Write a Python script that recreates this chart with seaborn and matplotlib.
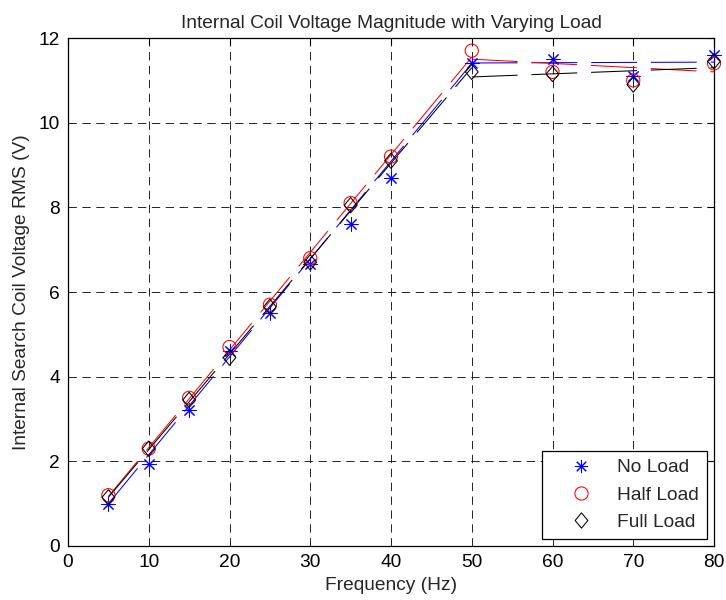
import matplotlib
matplotlib.use("Agg")
import matplotlib.pyplot as plt
import seaborn as sns
import pandas as pd
from matplotlib.lines import Line2D
from matplotlib.path import Path

# Measured RMS voltage at each test frequency
freq = [5, 10, 15, 20, 25, 30, 35, 40, 50, 60, 70, 80]
no_load = [1.0, 1.93, 3.22, 4.6, 5.5, 6.65, 7.6, 8.7, 11.4, 11.5, 11.1, 11.6]
half_load = [1.2, 2.3, 3.5, 4.7, 5.7, 6.8, 8.1, 9.2, 11.7, 11.2, 11.0, 11.4]
full_load = [1.15, 2.3, 3.45, 4.45, 5.65, 6.7, 8.05, 9.1, 11.2, 11.15, 10.9, 11.45]

# Piecewise linear fits: rising region 5-50 Hz, flat region 50-80 Hz
fit_rise_x = [5, 50]
fit_flat_x = [50, 80]
no_load_rise = [1.0, 11.4]
no_load_flat = [11.41, 11.43]
half_load_rise = [1.17, 11.55]
half_load_flat = [11.5, 11.2]
full_load_rise = [1.15, 11.3]
full_load_flat = [11.08, 11.3]

labels = ["No Load", "Half Load", "Full Load"]
colors = ["#0000ff", "#ff0000", "#000000"]

sns.set_style("white")
plt.rcParams["font.family"] = ["Liberation Sans", "DejaVu Sans"]
plt.rcParams["lines.scale_dashes"] = False

FS = 13.8

# slightly tall diamond and 8-spoke asterisk
diamond = Path([(0, 0.6), (0.5, 0), (0, -0.6), (-0.5, 0), (0, 0.6)],
               [Path.MOVETO, Path.LINETO, Path.LINETO, Path.LINETO, Path.CLOSEPOLY])
asterisk = (8, 2, 0)

fig = plt.figure(figsize=(7.26, 6.0), dpi=100)
ax = fig.add_axes([68 / 726, 1 - 546 / 600, 646 / 726, 508 / 600])

series = [
    (no_load, no_load_rise, no_load_flat, asterisk, 9.5, colors[0]),
    (half_load, half_load_rise, half_load_flat, "o", 9.5, "none"),
    (full_load, full_load_rise, full_load_flat, diamond, 11.0, "none"),
]

handles = []
for (vals, rise, flat, mk, ms, fc), col, lab in zip(series, colors, labels):
    for fx, fy in ((fit_rise_x, rise), (fit_flat_x, flat)):
        d = pd.DataFrame({"f": fx, "v": fy})
        sns.lineplot(data=d, x="f", y="v", ax=ax, color=col, lw=0.75, zorder=2)
        ax.lines[-1].set_dashes((33, 10))
    d = pd.DataFrame({"f": freq, "v": vals})
    sns.scatterplot(data=d, x="f", y="v", ax=ax, marker=mk, s=ms ** 2,
                    facecolors=fc, edgecolor=col, linewidths=0.75, zorder=3,
                    clip_on=False)
    handles.append(Line2D([], [], ls="none", marker=mk, markersize=ms,
                          markerfacecolor=fc, markeredgecolor=col,
                          markeredgewidth=0.75, label=lab))

ax.set_xlim(0, 80)
ax.set_ylim(0, 12)
ax.set_xticks(range(0, 81, 10))
ax.set_yticks(range(0, 13, 2))
ax.grid(True, color="#222222", lw=0.7, ls=(0, (6, 4)))
ax.set_axisbelow(True)
for s in ax.spines.values():
    s.set_visible(True)
    s.set_color("black")
    s.set_linewidth(0.9)
ax.tick_params(direction="in", length=5, width=0.8, top=True, right=True,
               labelsize=FS, pad=6, colors="black")

ax.set_title("Internal Coil Voltage Magnitude with Varying Load", fontsize=FS, pad=7)
ax.set_xlabel("Frequency (Hz)", fontsize=FS, labelpad=4)
ax.set_ylabel("Internal Search Coil Voltage RMS (V)", fontsize=FS, labelpad=6)

leg = ax.legend(handles=handles, loc="lower right", fontsize=FS, frameon=True,
                fancybox=False, edgecolor="black", framealpha=1,
                borderpad=0.4, labelspacing=0.52, handlelength=3.3,
                handletextpad=0.25, borderaxespad=0.38)
leg.get_frame().set_linewidth(0.9)

fig.savefig("out.png", dpi=100, facecolor="white")
